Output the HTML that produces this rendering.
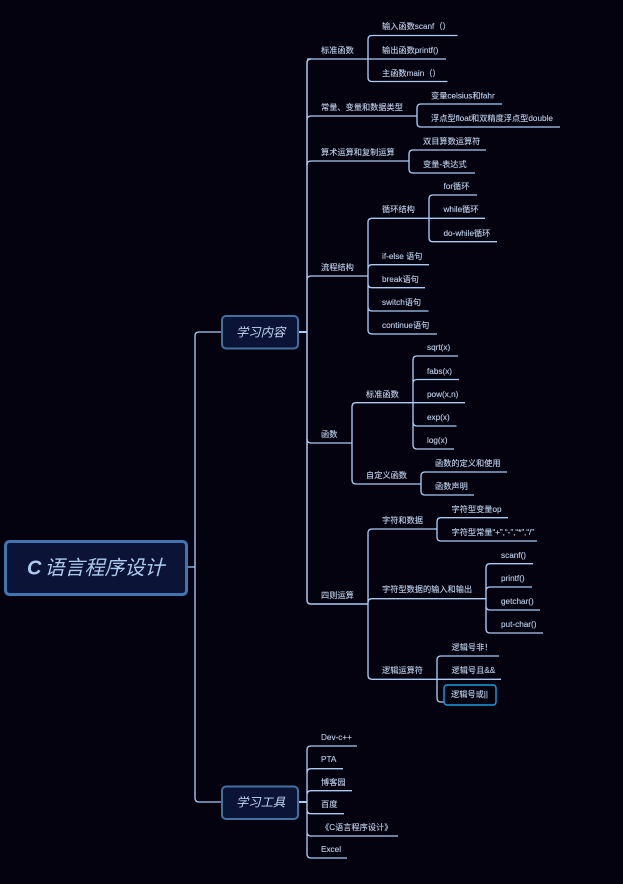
<!DOCTYPE html>
<html><head><meta charset="utf-8">
<style>
html,body{margin:0;padding:0;background:#05020f;width:623px;height:884px;overflow:hidden}
svg{display:block}
text{font-family:"Liberation Sans","Noto Sans CJK SC",sans-serif;font-size:8.2px;fill:#bdd0ea;stroke:#bdd0ea;stroke-width:.12}
.l{fill:none;stroke:#abcbf2;stroke-width:1.35}
.n{font-style:italic;font-size:12.3px;fill:#c3d8f2;stroke:none}
</style></head><body>
<svg width="623" height="884" viewBox="0 0 623 884" xmlns="http://www.w3.org/2000/svg">
<rect width="623" height="884" fill="#05020f"/>
<g class="l">
<path d="M188 567H195M221 332H199Q195 332 195 336V798Q195 802 199 802H221"/>
<path d="M299 332H307" stroke-width="2"/><path d="M299 802H307" stroke-width="2"/>
<path d="M311 59Q307 59 307 63V600Q307 604 311 604H368" stroke-width="1.5"/>
<path d="M307 59H368"/><path d="M307 120Q307 116 311 116H417"/><path d="M307 165Q307 161 311 161H409"/><path d="M307 280Q307 276 311 276H368"/><path d="M307 439Q307 443 311 443H352"/>
<!-- 标准函数 -->
<path d="M368 59V39.5Q368 35.5 372 35.5H457.500M368 59H446M368 59V77.500Q368 81.500 372 81.500H447.500"/>
<!-- 常量 -->
<path d="M417 116V108Q417 104 421 104H502M417 116V123Q417 127 421 127H560"/>
<!-- 算术 -->
<path d="M409 161V154Q409 150 413 150H486M409 161V169Q409 173 413 173H475"/>
<!-- 流程 -->
<path d="M368 276V222.300Q368 218.300 372 218.300H429M368 276V268.700Q368 264.700 372 264.700H429M368 276V283.700Q368 287.700 372 287.700H425M368 276V307Q368 311 372 311H428.500M368 276V330Q368 334 372 334H437"/>
<path d="M429 218.300V199Q429 195 433 195H477M429 218.300H485M429 218.300V237.700Q429 241.700 433 241.700H497"/>
<!-- 函数 -->
<path d="M352 443V406.700Q352 402.700 356 402.700H413M352 443V480Q352 484 356 484H421"/>
<path d="M413 402.700V360Q413 356 417 356H458M413 402.700V383.500Q413 379.500 417 379.500H459M413 402.700H465M413 402.700V422Q413 426 417 426H456.500M413 402.700V445Q413 449 417 449H454"/>
<path d="M421 484V476Q421 472 425 472H507M421 484V491Q421 495 425 495H474"/>
<!-- 四则 -->
<path d="M368 604V533Q368 529 372 529H437M368 604V602.700Q368 598.700 372 598.700H486M368 604V675.300Q368 679.300 372 679.300H437"/>
<path d="M437 529V521.700Q437 517.700 441 517.700H508M437 529V537Q437 541 441 541H537"/>
<path d="M486 598.700V567.700Q486 563.700 490 563.700H533M486 598.700V591Q486 587 490 587H532M486 598.700V606Q486 610 490 610H540M486 598.700V629Q486 633 490 633H543"/>
<path d="M437 679.300V660Q437 656 441 656H499M437 679.300H501M437 679.300V698Q437 702 441 702H444"/>
<!-- 工具 -->
<path d="M307 802V750Q307 746 311 746H357M307 802V772.700Q307 768.700 311 768.700H343M307 802V794.700Q307 790.700 311 790.700H352M307 802V809.700Q307 813.700 311 813.700H344M307 802V832Q307 836 311 836H398M307 802V854Q307 858 311 858H347"/>
</g>
<rect x="5.500" y="541.500" width="181" height="53" rx="4" fill="#0b1437" stroke="#4374b0" stroke-width="3"/>
<rect x="222" y="316" width="76" height="32.500" rx="4" fill="#0b1437" stroke="#44709f" stroke-width="2"/>
<rect x="222" y="786.500" width="76" height="32.500" rx="4" fill="#0b1437" stroke="#44709f" stroke-width="2"/>
<rect x="444" y="685" width="52" height="20" rx="3" fill="#05020f" stroke="#1b9fe0" stroke-width="1.4"/>
<text x="27" y="574.500" style="font-size:20px;font-style:italic;fill:#aecbef;stroke:none"><tspan font-weight="bold" style="font-size:20px">C</tspan><tspan dx="3">语言程序设计</tspan></text>
<text class="n" x="236" y="336.500">学习内容</text>
<text class="n" x="236" y="806.500">学习工具</text>
<text x="321" y="53">标准函数</text>
<text x="382" y="29">输入函数scanf（）</text>
<text x="382" y="53">输出函数printf()</text>
<text x="382" y="76">主函数main（）</text>
<text x="321" y="110">常量、变量和数据类型</text>
<text x="431" y="98.500">变量celsius和fahr</text>
<text x="431" y="121">浮点型float和双精度浮点型double</text>
<text x="321" y="155">算术运算和复制运算</text>
<text x="423" y="144">双目算数运算符</text>
<text x="423" y="167">变量-表达式</text>
<text x="321" y="270">流程结构</text>
<text x="382" y="212">循环结构</text>
<text x="443.500" y="189">for循环</text>
<text x="443.500" y="212">while循环</text>
<text x="443.500" y="236">do-while循环</text>
<text x="382" y="259">if-else 语句</text>
<text x="382" y="282">break语句</text>
<text x="382" y="305">switch语句</text>
<text x="382" y="328">continue语句</text>
<text x="321" y="437">函数</text>
<text x="366" y="397">标准函数</text>
<text x="427" y="350">sqrt(x)</text>
<text x="427" y="374">fabs(x)</text>
<text x="427" y="397">pow(x,n)</text>
<text x="427" y="420">exp(x)</text>
<text x="427" y="443">log(x)</text>
<text x="366" y="478">自定义函数</text>
<text x="435" y="466">函数的定义和使用</text>
<text x="435" y="489">函数声明</text>
<text x="321" y="598">四则运算</text>
<text x="382" y="523">字符和数据</text>
<text x="451.500" y="512">字符型变量op</text>
<text x="451.500" y="535">字符型常量“+”,“-”,“*”,“/”</text>
<text x="382" y="592">字符型数据的输入和输出</text>
<text x="501" y="558">scanf()</text>
<text x="501" y="581">printf()</text>
<text x="501" y="604">getchar()</text>
<text x="501" y="627">put-char()</text>
<text x="382" y="673">逻辑运算符</text>
<text x="451.500" y="650">逻辑号非！</text>
<text x="451.500" y="673">逻辑号且&amp;&amp;</text>
<text x="451" y="697">逻辑号或||</text>
<text x="321" y="740">Dev-c++</text>
<text x="321" y="762">PTA</text>
<text x="321" y="785">博客园</text>
<text x="321" y="807">百度</text>
<text x="321" y="830">《C语言程序设计》</text>
<text x="321" y="852">Excel</text>
</svg>
</body></html>
